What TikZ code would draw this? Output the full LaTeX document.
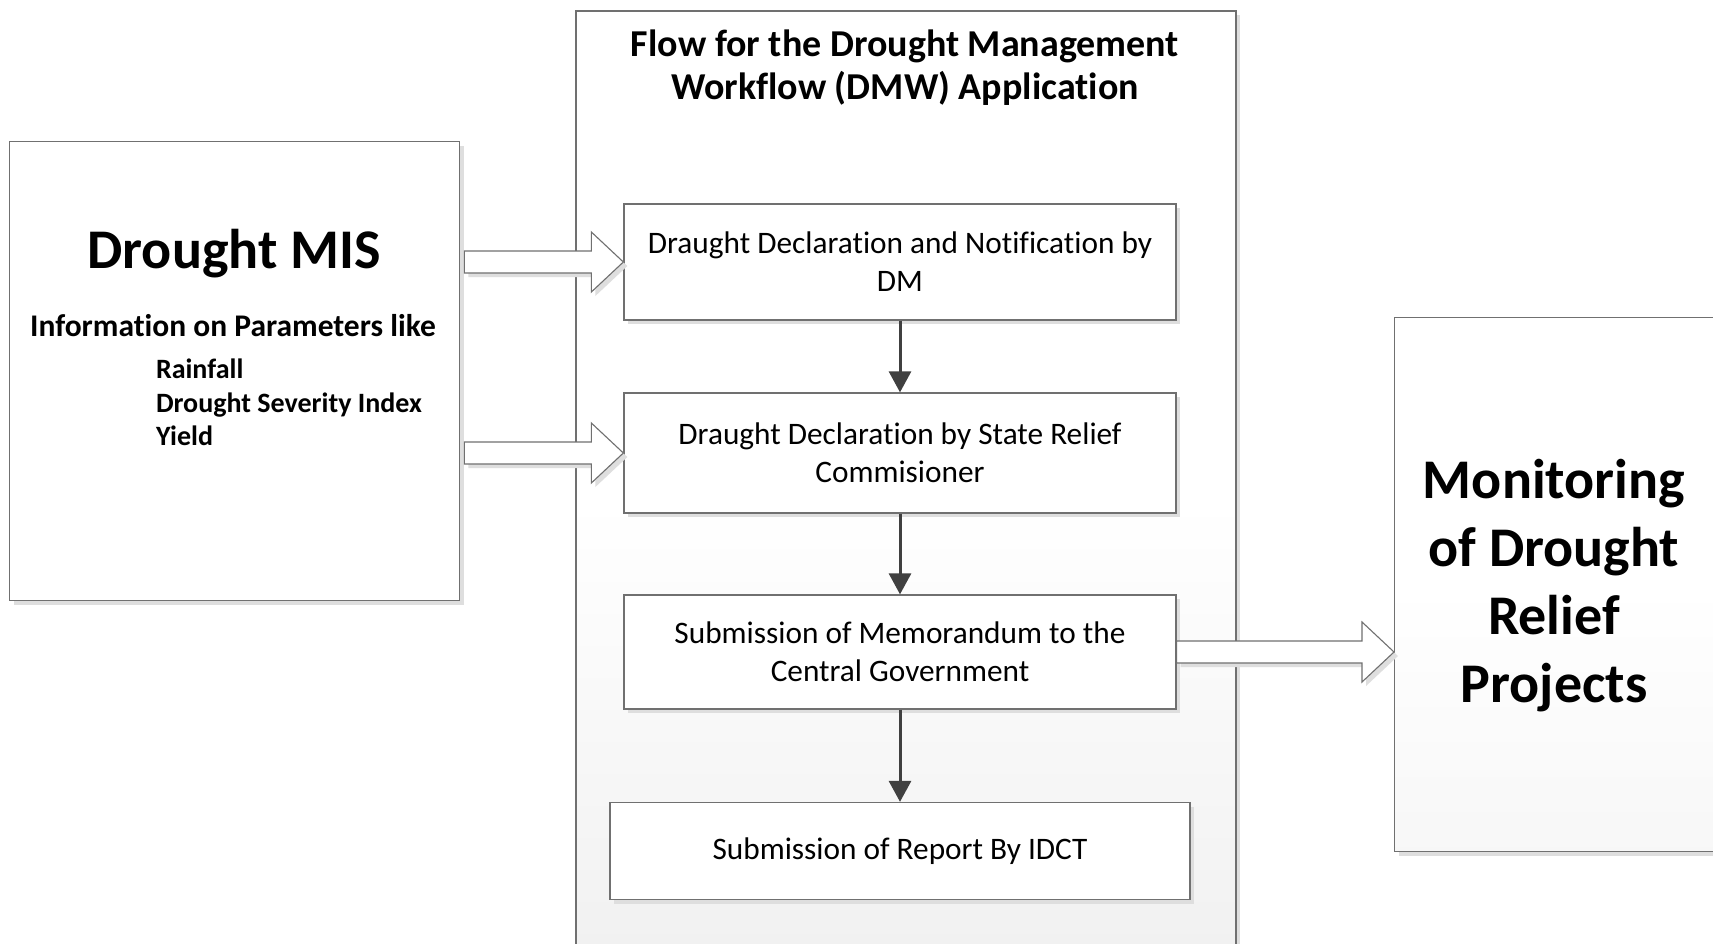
\documentclass[tikz,border=0pt]{standalone}
\usepackage{fontspec}
\setmainfont[Ligatures={NoCommon}]{Carlito}
\usetikzlibrary{calc,shadows,arrows.meta}
\definecolor{bordergray}{HTML}{707070}
\definecolor{shadowgray}{HTML}{DEDEDE}
\definecolor{arrowdark}{HTML}{404040}
\tikzset{
  shad/.style={drop shadow={shadow xshift=4pt,shadow yshift=-4pt,opacity=1,fill=shadowgray}},
  flowbox/.style={draw=bordergray,line width=1.3pt,fill=white,shad,inner sep=0pt,align=center,
    font=\fontsize{31.3}{38}\selectfont},
  bigbox/.style={draw=bordergray,line width=1.3pt,shad,inner sep=0pt},
  contbox/.style={draw=bordergray,line width=2pt,shad,inner sep=0pt,top color=white,bottom color=black!6,middle color=white},
  darr/.style={draw=arrowdark,line width=3pt,-{Triangle[width=22pt,length=21pt]},shorten >=0pt},
  barrow/.style={draw=bordergray,line width=1.1pt,fill=white,shad,line join=miter},
  plain/.style={inner sep=0pt,outer sep=0pt}
}
\newcommand\blockarrow[2]{%
  \path[barrow] let \p1=(#1), \p2=(#2) in
    (\x1,\y1+11pt) -- (\x2-32pt,\y1+11pt) -- (\x2-32pt,\y1+30pt) -- (\x2,\y1)
    -- (\x2-32pt,\y1-30pt) -- (\x2-32pt,\y1-11pt) -- (\x1,\y1-11pt) -- cycle;}
\begin{document}
\begin{tikzpicture}[x=1pt,y=-1pt]
\useasboundingbox (0,0) rectangle (1713,943);
\fill[white] (0,0) rectangle (1713,943);
\clip (0,0) rectangle (1713,943);

% container
\node[contbox,minimum width=660pt,minimum height=980pt,anchor=north west] (dmw) at (575,10) {};
\node[plain,align=center,font=\fontsize{38}{43}\selectfont\bfseries] (title) at (905,68)
  {Flow for the Drought Management\\Workflow (DMW) Application};

% left box
\node[bigbox,fill=white,minimum width=450pt,minimum height=459pt,anchor=north west] (mis) at (9,141) {};
\node[plain,anchor=base,font=\fontsize{56}{66}\selectfont\bfseries] (mist) at (234,268) {Drought MIS};
\node[plain,anchor=base,font=\fontsize{31.5}{36}\selectfont\bfseries] (info) at (233,336) {Information on Parameters like};
\node[plain,anchor=base west,font=\fontsize{28}{34}\selectfont\bfseries] (p1) at (156,378) {Rainfall};
\node[plain,anchor=base west,font=\fontsize{28}{34}\selectfont\bfseries] (p2) at (156,412) {Drought Severity Index};
\node[plain,anchor=base west,font=\fontsize{28}{34}\selectfont\bfseries] (p3) at (156,445) {Yield};

% right box
\node[bigbox,top color=white,bottom color=black!3,middle color=white,minimum width=340pt,minimum height=534pt,anchor=north west] (mon) at (1394,317) {};
\node[plain,align=center,font=\fontsize{56}{68}\selectfont\bfseries] (mont) at (1554,586)
  {Monitoring\\of Drought\\Relief\\Projects};

% flow boxes
\node[flowbox,minimum width=552pt,minimum height=116pt] (b1) at (900,262) {Draught Declaration and Notification by\\DM};
\node[flowbox,minimum width=552pt,minimum height=120pt] (b2) at (900,453) {Draught Declaration by State Relief\\Commisioner};
\node[flowbox,minimum width=552pt,minimum height=114pt] (b3) at (900,652) {Submission of Memorandum to the\\Central Government};
\node[flowbox,minimum width=580pt,minimum height=97pt] (b4) at (900,851) {Submission of Report By IDCT};

% down arrows
\draw[darr] (b1.south) -- (b2.north);
\draw[darr] (b2.south) -- (b3.north);
\draw[darr] (b3.south) -- (b4.north);

% block arrows
\coordinate (a1s) at ($(mis.east |- b1.west)+(4,0)$);
\coordinate (a2s) at ($(mis.east |- b2.west)+(4,0)$);
\coordinate (a3e) at (mon.west |- b3.east);
\blockarrow{a1s}{b1.west}
\blockarrow{a2s}{b2.west}
\blockarrow{b3.east}{a3e}
\end{tikzpicture}
\end{document}
